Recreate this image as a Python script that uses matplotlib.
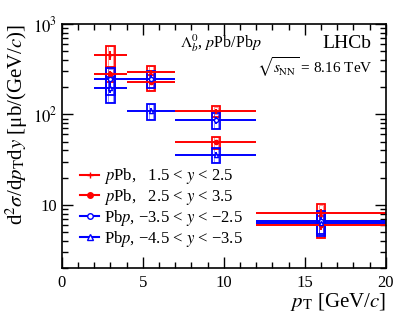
import matplotlib
matplotlib.use("Agg")
import matplotlib.pyplot as plt
from matplotlib.patches import Rectangle
from matplotlib.ticker import MultipleLocator, LogLocator, FixedLocator, NullFormatter

plt.rcParams['font.family'] = ['Liberation Serif', 'DejaVu Serif']
plt.rcParams['mathtext.fontset'] = 'stix'

# Data
bin_lo = [2, 4, 7, 12]
bin_hi = [4, 7, 12, 20]
pt_pos = [3.0, 5.5, 9.5, 16.0]

ppb_y1 = [452, 294, 108, 8.2]      # pPb 1.5<y<2.5
ppb_y2 = [284, 229, 49, 5.9]       # pPb 2.5<y<3.5
pbp_y1 = [245, 249, 86, 6.6]       # Pbp -3.5<y<-2.5
pbp_y2 = [198, 109, 36, 6.3]       # Pbp -4.5<y<-3.5

ppb_sys1 = [125, 50, 15, 2.0]
ppb_sys2 = [55, 45, 8, 1.6]
pbp_sys1 = [80, 55, 17, 1.9]
pbp_sys2 = [65, 22, 7, 1.8]

labels = [r'$p$Pb,   1.5 < $y$ < 2.5',
          r'$p$Pb,   2.5 < $y$ < 3.5',
          r'Pb$p$, −3.5 < $y$ < −2.5',
          r'Pb$p$, −4.5 < $y$ < −3.5']

fig = plt.figure(figsize=(4.07, 3.22), dpi=100)
ax = fig.add_axes([0.152, 0.168, 0.796, 0.757])

series = [
    (ppb_y1, ppb_sys1, 'red', '+', 'red'),
    (ppb_y2, ppb_sys2, 'red', 'o', 'red'),
    (pbp_y1, pbp_sys1, 'blue', 'o', 'white'),
    (pbp_y2, pbp_sys2, 'blue', '^', 'white'),
]

handles = []
for (vals, sys, col, mk, mfc), lab in zip(series, labels):
    xerr_lo = [p - lo for p, lo in zip(pt_pos, bin_lo)]
    xerr_hi = [hi - p for p, hi in zip(pt_pos, bin_hi)]
    stat = [s * 0.4 for s in sys]
    ax.errorbar(pt_pos, vals, xerr=[xerr_lo, xerr_hi], yerr=stat,
                fmt=mk, color=col, mfc=mfc, mec=col, ms=3, lw=1.5,
                elinewidth=1.4, capsize=0)
    for p, v, s in zip(pt_pos, vals, sys):
        ax.add_patch(Rectangle((p - 0.25, v - s), 0.5, 2 * s, fill=False,
                               edgecolor=col, lw=1.3))
        ax.add_patch(Rectangle((p - 0.13, v - s * 0.93), 0.26, 2 * s * 0.93, fill=False,
                               edgecolor=col, lw=0.6, alpha=0.5))
    h, = ax.plot([], [], marker=mk, color=col, mfc=mfc, mec=col, ms=4, lw=1.5, label=lab)
    handles.append(h)

ax.set_yscale('log')
ax.set_xlim(0, 20)
ax.set_ylim(2, 1000)
ax.xaxis.set_major_locator(MultipleLocator(5))
ax.xaxis.set_minor_locator(MultipleLocator(1))
ax.yaxis.set_major_locator(FixedLocator([10, 100, 1000]))
ax.set_yticklabels(['10', r'$10^2$', r'$10^3$'])
ax.yaxis.set_minor_locator(LogLocator(base=10, subs=range(2, 10)))
ax.yaxis.set_minor_formatter(NullFormatter())
ax.tick_params(which='both', direction='in', top=True, right=True, labelsize=12)
ax.tick_params(which='major', length=8, width=1)
ax.tick_params(which='minor', length=4, width=1)
ax.tick_params(axis='x', pad=5)
for sp in ax.spines.values():
    sp.set_linewidth(1.2)

ax.set_xlabel(r'$p_{\mathrm{T}}$ [GeV/$c$]', fontsize=15, loc='right', labelpad=0)
ax.set_ylabel(r'd$^2\sigma$/d$p_{\mathrm{T}}$d$y$ [μb/(GeV/$c$)]', fontsize=15,
              loc='top', labelpad=2)

ax.text(0.955, 0.922, 'LHCb', transform=ax.transAxes, ha='right', va='center', fontsize=14)
ax.text(0.96, 0.822, r'$\sqrt{s_{\mathrm{NN}}}$ = 8.16 TeV', transform=ax.transAxes,
        ha='right', va='center', fontsize=11)
ax.text(0.49, 0.922, r'$\Lambda_b^0$, $p$Pb/Pb$p$', transform=ax.transAxes,
        ha='center', va='center', fontsize=11.5)

leg = ax.legend(handles=handles, loc='lower left', bbox_to_anchor=(0.02, 0.03), frameon=False,
                fontsize=12, handlelength=1.15, handletextpad=0.3,
                labelspacing=0.05, borderaxespad=0.3)

fig.savefig('out.png', dpi=100)
